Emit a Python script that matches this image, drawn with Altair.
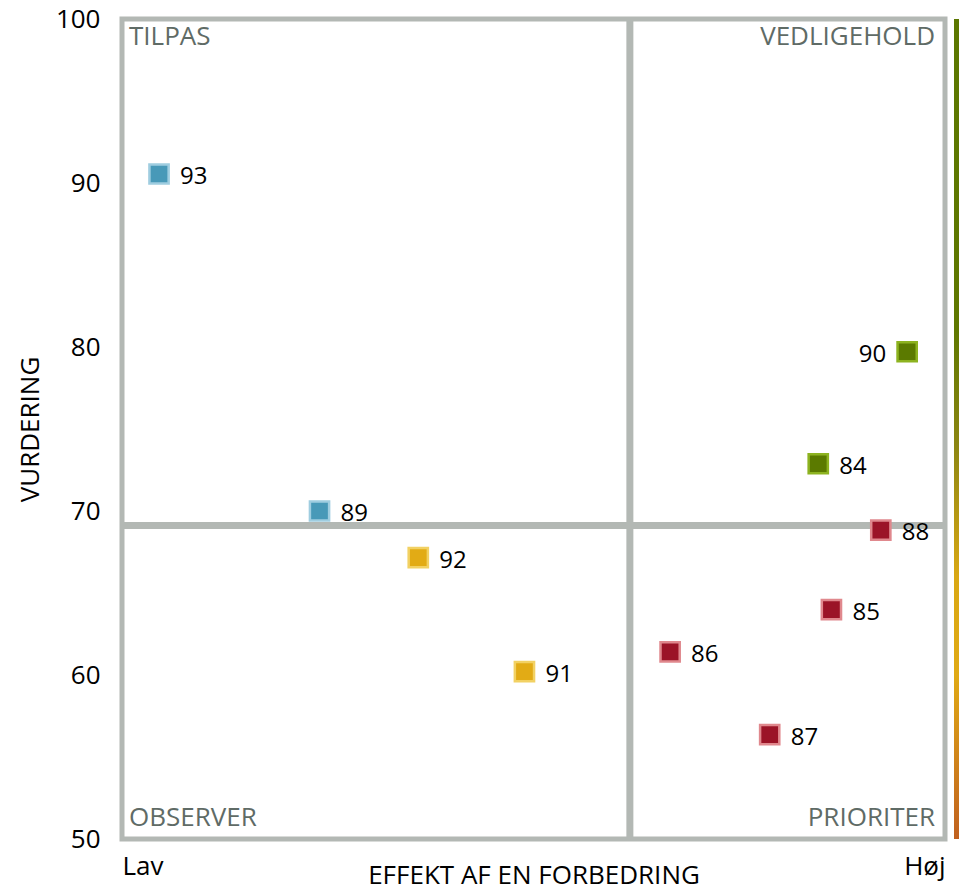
import altair as alt
import pandas as pd

# ---- data ----
labels = ["93", "89", "92", "91", "86", "87", "85", "88", "84", "90"]
effect = [4.5, 24.0, 36.0, 48.9, 66.6, 78.7, 86.2, 92.2, 84.6, 95.4]
rating = [90.55, 70.0, 67.16, 60.2, 61.41, 56.37, 63.98, 68.84, 72.88, 79.71]
quadrant = ["TILPAS", "TILPAS", "OBSERVER", "OBSERVER", "PRIORITER",
            "PRIORITER", "PRIORITER", "PRIORITER", "VEDLIGEHOLD", "VEDLIGEHOLD"]

quadrant_names = ["TILPAS", "VEDLIGEHOLD", "OBSERVER", "PRIORITER"]
quadrant_h = ["left", "right", "left", "right"]
quadrant_v = ["top", "top", "bottom", "bottom"]
fill_colors = ["#4899b8", "#5b7a00", "#e2ab15", "#9b1427"]
stroke_colors = ["#9fcde0", "#8db320", "#f2d163", "#e0888d"]

x_domain = [0, 100]
y_domain = [50, 100]
x_ticks = [0, 100]
x_tick_labels = ["Lav", "Høj"]
y_ticks = [50, 60, 70, 80, 90, 100]

FONT = "Open Sans"
GRAY = "#b3b8b4"
QGRAY = "#5f6b66"

df = pd.DataFrame({"label": labels, "effect": effect, "rating": rating, "quadrant": quadrant})
corners = pd.DataFrame({"name": quadrant_names, "h": quadrant_h, "v": quadrant_v})
corners["cx"] = [x_domain[0] if h == "left" else x_domain[1] for h in quadrant_h]
corners["cy"] = [y_domain[1] if v == "top" else y_domain[0] for v in quadrant_v]
frame = pd.DataFrame({"x0": [x_domain[0]], "x1": [x_domain[1]], "y0": [y_domain[0]], "y1": [y_domain[1]]})

label_expr = " : ".join(
    [f"datum.value == {v} ? '{t}'" for v, t in zip(x_ticks[:-1], x_tick_labels[:-1])]
    + [f"'{x_tick_labels[-1]}'"]
)

xscale = alt.Scale(domain=x_domain, nice=False, zero=False)
yscale = alt.Scale(domain=y_domain, nice=False, zero=False)

xaxis = alt.Axis(values=x_ticks, labelExpr=label_expr, labelFlush=True, domain=False,
                 ticks=False, grid=False, labelFontSize=26, labelFont=FONT, labelColor="#000",
                 labelPadding=14, title="EFFEKT AF EN FORBEDRING", titleFont=FONT,
                 titleFontSize=26, titleFontWeight="normal", titleColor="#000",
                 titleY=36, titleBaseline="middle")
yaxis = alt.Axis(values=y_ticks, domain=False, ticks=False, grid=False, labelFontSize=26,
                 labelFont=FONT, labelColor="#000", labelPadding=22, title="VURDERING",
                 titleFont=FONT, titleFontSize=26, titleFontWeight="normal", titleColor="#000",
                 titleX=-92, titleY=410, titleAngle=270, titleAlign="center",
                 titleBaseline="middle")

base = alt.Chart(df)

frame_rect = alt.Chart(frame).mark_rect(filled=False, stroke=GRAY, strokeWidth=5).encode(
    x=alt.X("x0:Q", scale=xscale, axis=xaxis), x2="x1:Q",
    y=alt.Y("y0:Q", scale=yscale, axis=yaxis), y2="y1:Q",
)

vrule = base.mark_rule(color=GRAY, strokeWidth=7).encode(
    x=alt.X("mean(effect):Q", scale=xscale, axis=xaxis)
)
hrule = base.mark_rule(color=GRAY, strokeWidth=7).encode(
    y=alt.Y("mean(rating):Q", scale=yscale, axis=yaxis)
)

points = base.mark_square(size=369, strokeWidth=2.5, opacity=1).encode(
    x=alt.X("effect:Q", scale=xscale, axis=xaxis),
    y=alt.Y("rating:Q", scale=yscale, axis=yaxis),
    fill=alt.Fill("quadrant:N", scale=alt.Scale(domain=quadrant_names, range=fill_colors), legend=None),
    stroke=alt.Stroke("quadrant:N", scale=alt.Scale(domain=quadrant_names, range=stroke_colors), legend=None),
)

text_right = base.transform_filter("datum.label != '90'").mark_text(
    align="left", baseline="middle", dx=21, dy=3, font=FONT, fontSize=24, color="#000"
).encode(x="effect:Q", y="rating:Q", text="label:N")
text_left = base.transform_filter("datum.label == '90'").mark_text(
    align="right", baseline="middle", dx=-21, dy=3, font=FONT, fontSize=24, color="#000"
).encode(x="effect:Q", y="rating:Q", text="label:N")

corner_layers = []
for h in ["left", "right"]:
    for v in ["top", "bottom"]:
        corner_layers.append(
            alt.Chart(corners).transform_filter(f"datum.h == '{h}' && datum.v == '{v}'").mark_text(
                align=h, baseline="middle", dx=7 if h == "left" else -10,
                dy=18 if v == "top" else -21, font=FONT, fontSize=26, color=QGRAY
            ).encode(x="cx:Q", y="cy:Q", text="name:N")
        )

bar = alt.Chart(frame).mark_rect(
    fill=alt.Gradient(
        gradient="linear",
        stops=[
            alt.GradientStop(offset=0.0, color="#5b7700"),
            alt.GradientStop(offset=0.38, color="#5f7800"),
            alt.GradientStop(offset=0.52, color="#8c8612"),
            alt.GradientStop(offset=0.68, color="#d9a814"),
            alt.GradientStop(offset=0.8, color="#e0aa15"),
            alt.GradientStop(offset=1.0, color="#c0601f"),
        ],
        x1=0, x2=0, y1=0, y2=1,
    )
).encode(x=alt.value(832), x2=alt.value(860), y=alt.datum(100), y2=alt.datum(50))

chart = alt.layer(frame_rect, vrule, hrule, bar, points, text_right, text_left, *corner_layers).properties(
    width=823, height=820,
    autosize=alt.AutoSizeParams(type="none"),
    padding={"left": 114, "top": 11, "right": 14, "bottom": 49},
).configure_view(stroke=None).configure(background="white")

chart.save("out.html", embed_options={"renderer": "svg", "actions": False})
